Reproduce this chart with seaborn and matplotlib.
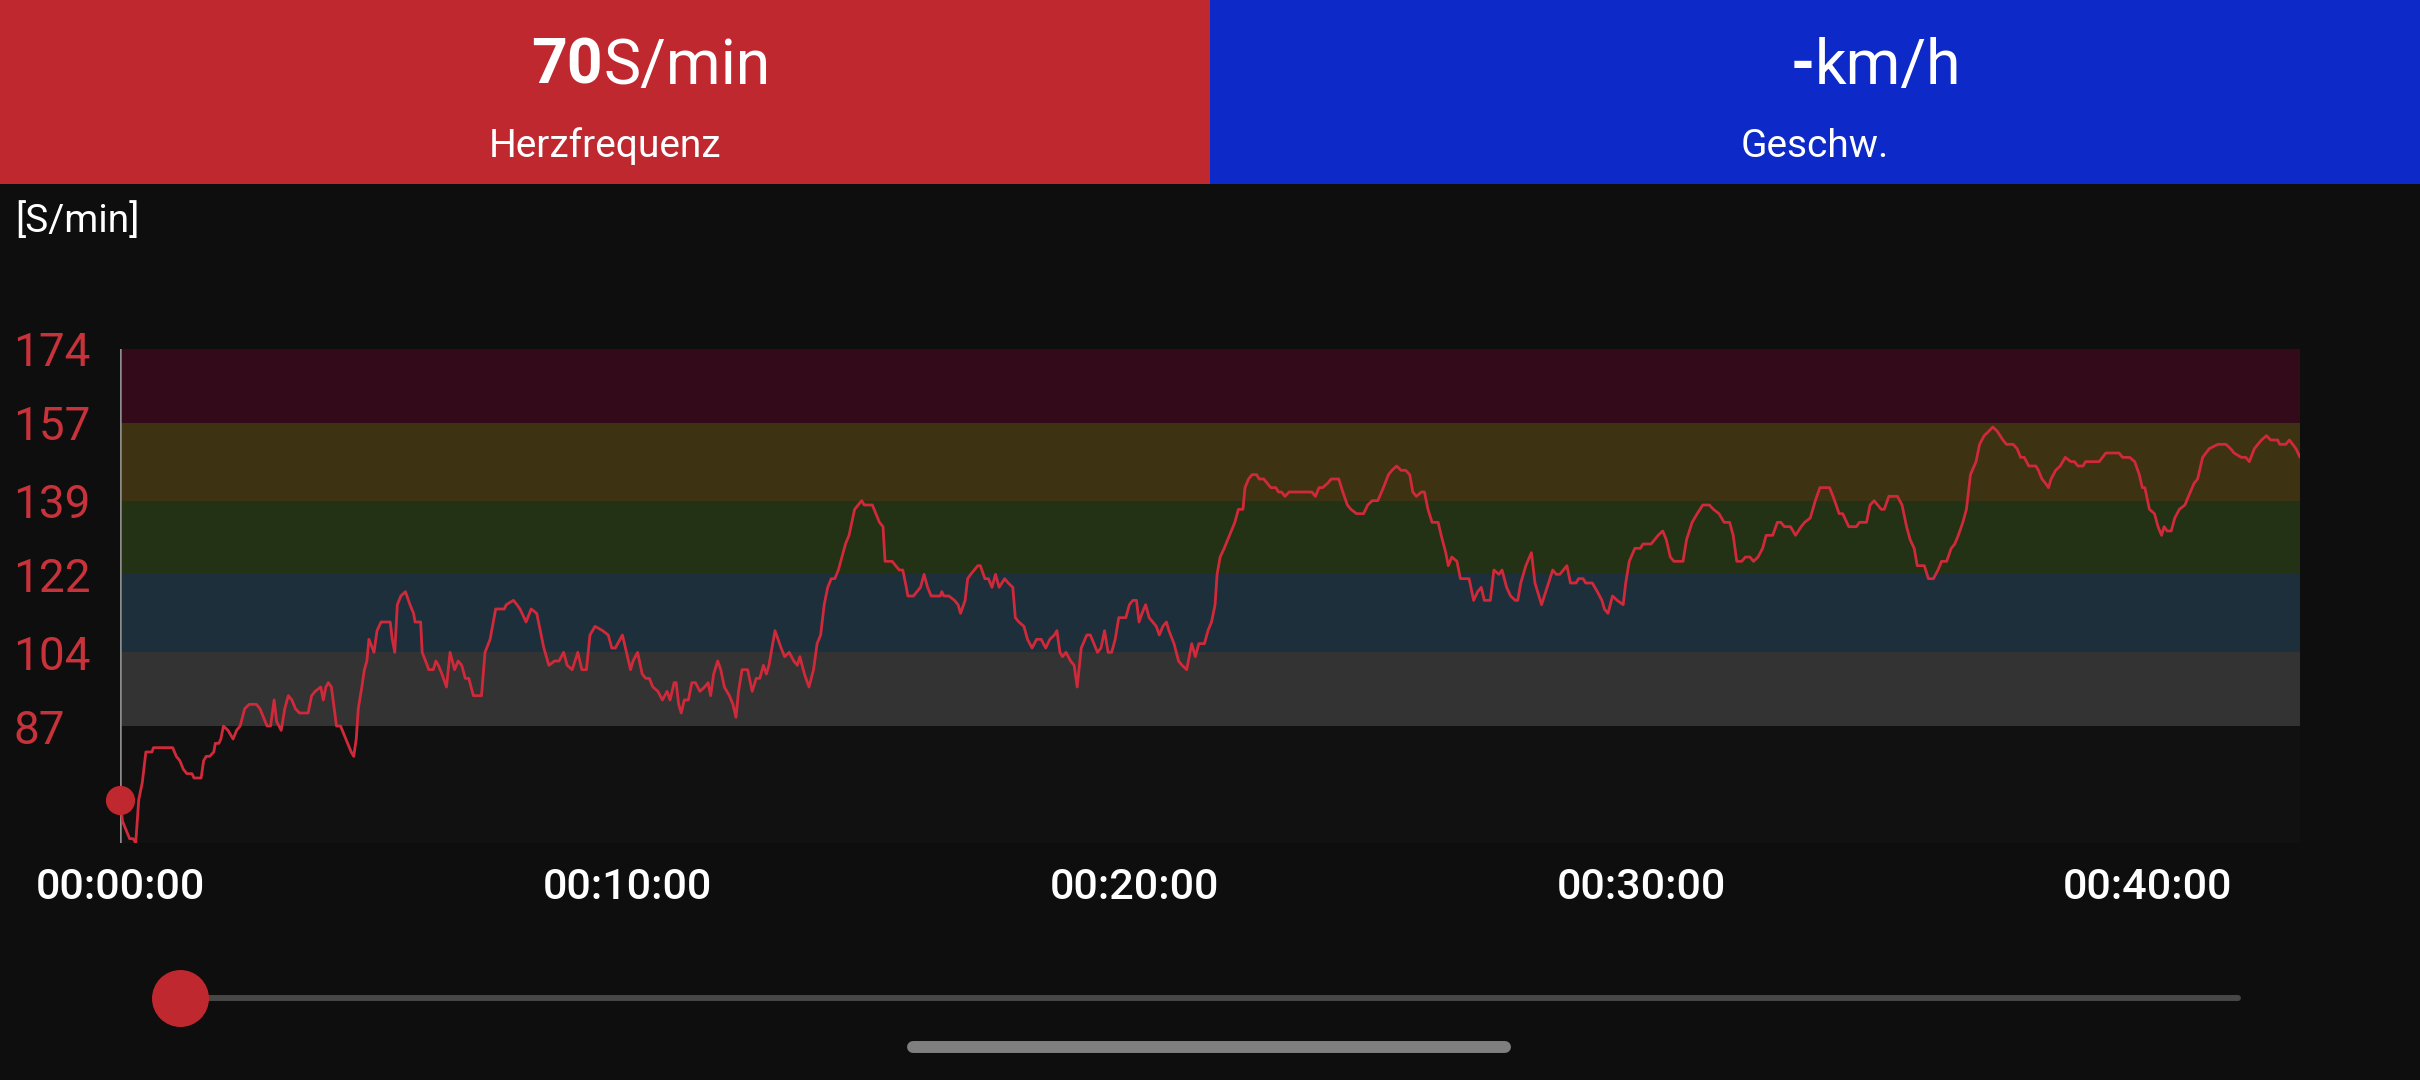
import numpy as np
import pandas as pd
import matplotlib.pyplot as plt
from matplotlib.patches import Rectangle
from matplotlib.lines import Line2D
import seaborn as sns

# heart rate trace (minutes, bpm), split in four chunks
time_a = [0.00, 0.05, 0.12, 0.19, 0.26, 0.31, 0.37, 0.44, 0.51, 0.54,
          0.63, 0.66, 1.04, 1.11, 1.18, 1.25, 1.32, 1.42, 1.46, 1.60,
          1.65, 1.70, 1.77, 1.85, 1.88, 1.95, 1.99, 2.04, 2.13, 2.23,
          2.30, 2.37, 2.46, 2.55, 2.69, 2.76, 2.90, 2.97, 3.04, 3.09,
          3.18, 3.25, 3.32, 3.39, 3.46, 3.54, 3.71, 3.78, 3.85, 3.96,
          4.01, 4.06, 4.11, 4.17, 4.27, 4.35, 4.42, 4.49, 4.56, 4.61,
          4.66, 4.70, 4.77, 4.82, 4.87, 4.91, 5.01, 5.07, 5.15, 5.33,
          5.37, 5.42, 5.47, 5.54, 5.63, 5.72, 5.79, 5.82, 5.93, 5.96,
          6.06, 6.09, 6.18, 6.23, 6.28, 6.35, 6.44, 6.51, 6.60, 6.67,
          6.74, 6.81, 6.88, 6.97, 7.13, 7.20, 7.30, 7.41, 7.58, 7.62,
          7.76, 7.83, 7.89, 8.01, 8.11, 8.22, 8.36, 8.46, 8.57, 8.66,
          8.75, 8.82, 8.92, 9.03, 9.11, 9.20, 9.27, 9.37, 9.52, 9.63,
          9.70, 9.77, 9.91, 10.01, 10.07, 10.12, 10.21, 10.30, 10.37, 10.44,
          10.51, 10.61, 10.70]
hr_a = [70, 65, 63, 61, 61, 60, 70, 74, 81, 81,
        81, 82, 82, 80, 79, 77, 76, 76, 75, 75,
        79, 80, 80, 81, 83, 83, 84, 87, 86, 84,
        86, 87, 91, 92, 92, 91, 87, 87, 93, 88,
        86, 91, 94, 93, 91, 90, 90, 94, 95, 96,
        93, 96, 97, 96, 87, 87, 85, 83, 81, 80,
        84, 91, 96, 100, 102, 107, 104, 109, 111, 111,
        107, 104, 115, 117, 118, 115, 113, 111, 111, 104,
        101, 100, 100, 102, 101, 99, 96, 104, 100, 102,
        101, 98, 98, 94, 94, 104, 107, 114, 114, 115,
        116, 115, 114, 111, 114, 113, 105, 101, 102, 102,
        104, 101, 100, 104, 100, 100, 108, 110, 109, 108,
        105, 105, 108, 103, 100, 102, 104, 99, 98, 98,
        96, 95, 93]

time_b = [10.79, 10.85, 10.93, 10.97, 11.02, 11.07, 11.13, 11.21, 11.28, 11.35,
          11.44, 11.53, 11.60, 11.65, 11.71, 11.79, 11.85, 11.92, 12.02, 12.09,
          12.15, 12.20, 12.27, 12.38, 12.47, 12.55, 12.62, 12.69, 12.75, 12.80,
          12.92, 13.04, 13.11, 13.20, 13.29, 13.36, 13.41, 13.50, 13.59, 13.68,
          13.75, 13.82, 13.89, 13.96, 14.03, 14.10, 14.17, 14.24, 14.31, 14.38,
          14.49, 14.56, 14.63, 14.68, 14.84, 14.91, 14.98, 15.05, 15.09, 15.23,
          15.30, 15.37, 15.44, 15.51, 15.54, 15.65, 15.72, 15.79, 15.86, 15.93,
          16.00, 16.18, 16.21, 16.25, 16.35, 16.46, 16.53, 16.58, 16.67, 16.72,
          16.78, 16.85, 16.92, 16.97, 17.06, 17.13, 17.20, 17.27, 17.34, 17.45,
          17.52, 17.61, 17.66, 17.73, 17.83, 17.90, 17.99, 18.08, 18.17, 18.26,
          18.34, 18.43, 18.48, 18.54, 18.59, 18.66, 18.75, 18.82, 18.88, 18.96,
          19.07, 19.14, 19.21, 19.28, 19.35, 19.42, 19.49, 19.56, 19.63, 19.70,
          19.84, 19.91, 19.98, 20.05, 20.10, 20.16, 20.23, 20.30, 20.37, 20.44,
          20.50, 20.57, 20.64, 20.69, 20.79, 20.88, 20.95, 21.04, 21.09, 21.14,
          21.21, 21.28, 21.39, 21.46, 21.53, 21.60]
hr_b = [95, 93, 97, 97, 92, 90, 93, 93, 97, 97,
        95, 96, 97, 94, 99, 102, 100, 96, 94, 92,
        89, 95, 100, 100, 95, 98, 98, 101, 99, 101,
        109, 105, 103, 104, 102, 101, 103, 99, 96, 100,
        106, 108, 115, 119, 121, 121, 123, 126, 129, 131,
        137, 138, 139, 138, 138, 136, 134, 133, 125, 125,
        124, 123, 123, 119, 117, 117, 118, 119, 122, 119,
        117, 117, 118, 117, 117, 116, 115, 113, 116, 121,
        122, 123, 124, 124, 121, 121, 119, 122, 119, 121,
        120, 119, 112, 111, 110, 107, 105, 107, 107, 105,
        107, 108, 109, 104, 103, 104, 102, 101, 96, 105,
        108, 108, 106, 104, 105, 109, 104, 104, 107, 112,
        112, 115, 116, 116, 111, 113, 115, 112, 111, 110,
        108, 110, 111, 109, 106, 102, 101, 100, 103, 106,
        103, 106, 106, 109, 111, 115]

time_c = [21.64, 21.70, 21.78, 21.85, 21.92, 21.99, 22.06, 22.15, 22.19, 22.26,
          22.33, 22.42, 22.47, 22.56, 22.63, 22.70, 22.80, 22.85, 22.91, 22.98,
          23.06, 23.51, 23.58, 23.65, 23.72, 23.82, 23.89, 24.04, 24.12, 24.21,
          24.28, 24.39, 24.53, 24.61, 24.70, 24.81, 24.92, 25.02, 25.09, 25.18,
          25.27, 25.36, 25.44, 25.50, 25.57, 25.67, 25.73, 25.80, 25.88, 26.00,
          26.06, 26.15, 26.20, 26.27, 26.37, 26.44, 26.54, 26.61, 26.70, 26.78,
          26.85, 26.91, 27.03, 27.10, 27.20, 27.26, 27.35, 27.43, 27.52, 27.57,
          27.63, 27.73, 27.84, 27.91, 28.04, 28.15, 28.26, 28.33, 28.40, 28.54,
          28.61, 28.72, 28.77, 28.86, 28.91, 29.04, 29.14, 29.23, 29.28, 29.35,
          29.44, 29.53, 29.65, 29.70, 29.77, 29.88, 29.99, 30.04, 30.20, 30.27,
          30.34, 30.43, 30.50, 30.58, 30.65, 30.83, 30.90, 31.01, 31.11, 31.22,
          31.35, 31.43, 31.54, 31.64, 31.75, 31.82, 31.89, 31.99, 32.06, 32.15,
          32.22, 32.31, 32.40, 32.47, 32.54]
hr_c = [122, 126, 128, 130, 132, 134, 137, 137, 142, 144,
        145, 145, 144, 144, 143, 142, 142, 141, 141, 140,
        141, 141, 140, 142, 142, 143, 144, 144, 141, 138,
        137, 136, 136, 138, 139, 139, 142, 145, 146, 147,
        146, 146, 145, 141, 140, 141, 141, 137, 134, 134,
        131, 127, 124, 126, 125, 121, 121, 121, 116, 118,
        119, 116, 116, 123, 122, 123, 119, 117, 116, 116,
        120, 124, 127, 120, 115, 119, 123, 122, 122, 124,
        120, 120, 121, 121, 120, 120, 118, 116, 114, 113,
        117, 116, 115, 120, 125, 128, 128, 129, 129, 130,
        131, 132, 130, 126, 125, 125, 130, 134, 136, 138,
        138, 137, 136, 134, 134, 131, 125, 125, 126, 126,
        125, 126, 128, 131, 131]

time_d = [32.60, 32.69, 32.76, 32.83, 32.95, 33.05, 33.16, 33.23, 33.34, 33.44,
          33.53, 33.72, 33.79, 33.91, 33.98, 34.10, 34.25, 34.31, 34.45, 34.52,
          34.60, 34.67, 34.74, 34.80, 34.89, 34.96, 35.06, 35.15, 35.24, 35.31,
          35.39, 35.45, 35.59, 35.67, 35.77, 35.86, 35.93, 36.03, 36.12, 36.19,
          36.26, 36.35, 36.42, 36.50, 36.61, 36.68, 36.77, 36.86, 36.94, 37.03,
          37.14, 37.21, 37.34, 37.42, 37.49, 37.56, 37.65, 37.79, 37.84, 37.91,
          37.98, 38.04, 38.09, 38.18, 38.27, 38.37, 38.48, 38.55, 38.62, 38.72,
          38.77, 39.04, 39.17, 39.43, 39.50, 39.64, 39.74, 39.83, 39.89, 39.94,
          40.03, 40.13, 40.20, 40.27, 40.32, 40.38, 40.46, 40.53, 40.62, 40.73,
          40.80, 40.91, 40.98, 41.08, 41.21, 41.38, 41.54, 41.63, 41.70, 41.84,
          41.93, 42.00, 42.10, 42.24, 42.34, 42.42, 42.56, 42.60, 42.72, 42.79,
          42.92, 43.00]
hr_d = [131, 134, 134, 133, 133, 131, 133, 134, 135, 139,
        142, 142, 140, 136, 136, 133, 133, 134, 134, 138,
        139, 138, 137, 137, 140, 140, 140, 138, 133, 130,
        128, 124, 124, 121, 121, 123, 125, 125, 128, 129,
        131, 134, 137, 145, 148, 152, 154, 155, 156, 155,
        153, 152, 152, 151, 149, 149, 147, 147, 146, 144,
        143, 142, 144, 146, 147, 149, 148, 148, 147, 147,
        148, 148, 150, 150, 149, 149, 148, 145, 142, 142,
        137, 136, 133, 131, 133, 132, 132, 135, 137, 138,
        140, 143, 144, 149, 151, 152, 152, 151, 150, 149,
        149, 148, 151, 153, 154, 153, 153, 152, 152, 153,
        151, 149]

# heart rate zones (bpm) and their band colours, bottom to top
zone_bounds = [60, 87, 104, 122, 139, 157, 174]
zone_colors = ['#111111', '#333333', '#1d2f3b', '#233114', '#3d3212', '#330a1a']

tick_minutes = [0, 10, 20, 30, 40]
tick_labels = ['00:00:00', '00:10:00', '00:20:00', '00:30:00', '00:40:00']
duration_min = 43.0
cursor_min = 0.0
cursor_hr = 70

BG = '#0e0e0e'
RED = '#c0282f'
BLUE = '#0d29c8'
LINE_RED = '#d02a3a'
W, H = 2420, 1080


def fx(px):
    return px / W


def fy(py):
    return 1 - py / H


def main():
    sns.set_theme(style='dark', rc={'axes.grid': False})
    plt.rcParams['font.family'] = ['Roboto', 'DejaVu Sans']

    df = pd.DataFrame({
        'minute': np.concatenate([time_a, time_b, time_c, time_d]),
        'hr': np.concatenate([hr_a, hr_b, hr_c, hr_d]),
    })

    fig = plt.figure(figsize=(W / 100, H / 100), dpi=100, facecolor=BG)

    # header tiles
    fig.add_artist(Rectangle((0, fy(184)), 0.5, 184 / H, transform=fig.transFigure,
                             color=RED, lw=0, zorder=0))
    fig.add_artist(Rectangle((0.5, fy(184)), 0.5, 184 / H, transform=fig.transFigure,
                             color=BLUE, lw=0, zorder=0))
    fig.text(fx(603), fy(84), str(cursor_hr), color='white', fontsize=45,
             fontweight='bold', ha='right', va='baseline')
    fig.text(fx(603), fy(84), 'S/min', color='white', fontsize=45,
             ha='left', va='baseline')
    fig.text(fx(605), fy(157), 'Herzfrequenz', color='white', fontsize=28,
             ha='center', va='baseline')
    fig.text(fx(1815), fy(84), '-', color='white', fontsize=45,
             fontweight='bold', ha='right', va='baseline')
    fig.text(fx(1815), fy(84), 'km/h', color='white', fontsize=45,
             ha='left', va='baseline')
    fig.text(fx(1815), fy(157), 'Geschw.', color='white', fontsize=28,
             ha='center', va='baseline')
    fig.text(fx(15), fy(232), '[S/min]', color='white', fontsize=28,
             ha='left', va='baseline')

    # chart
    ax = fig.add_axes([fx(120), fy(843), (2300 - 120) / W, (843 - 349) / H])
    ax.set_facecolor(BG)
    for lo, hi, c in zip(zone_bounds[:-1], zone_bounds[1:], zone_colors):
        ax.axhspan(lo, hi, color=c, lw=0, zorder=0)

    sns.lineplot(data=df, x='minute', y='hr', ax=ax, color=LINE_RED,
                 linewidth=2.0, zorder=3)
    ax.axvline(cursor_min, color='#8c8c8c', lw=1.8, zorder=2)
    ax.plot([cursor_min], [cursor_hr], 'o', ms=20, color=RED, mec=RED,
            clip_on=False, zorder=4)

    ax.set_xlim(0, duration_min)
    ax.set_ylim(zone_bounds[0], zone_bounds[-1])
    ax.set_xlabel('')
    ax.set_ylabel('')
    for s in ax.spines.values():
        s.set_visible(False)

    ax.set_yticks(zone_bounds[1:])
    ax.set_yticklabels([str(v) for v in zone_bounds[1:]], color='#c8323b',
                       fontsize=33, ha='left')
    ax.tick_params(axis='y', length=0, pad=(120 - 13) * 0.72)

    ax.set_xticks(tick_minutes)
    ax.set_xticklabels(tick_labels, color='white', fontsize=31,
                       fontweight='medium')
    ax.tick_params(axis='x', length=0, pad=24 * 0.72)

    # playback slider and home bar
    fig.add_artist(Line2D([fx(180), fx(2238)], [fy(998), fy(998)],
                          transform=fig.transFigure, color='#474747',
                          lw=4.3, zorder=1))
    fig.add_artist(Line2D([fx(180)], [fy(998)], transform=fig.transFigure,
                          marker='o', ms=40, color=RED, mec=RED, lw=0, zorder=2))
    fig.add_artist(Line2D([fx(913), fx(1505)], [fy(1047), fy(1047)],
                          transform=fig.transFigure, color='#7f7f7f', lw=8.6,
                          solid_capstyle='round', zorder=1))

    fig.savefig('out.png', dpi=100, facecolor=BG)
    plt.close(fig)


if __name__ == '__main__':
    main()
